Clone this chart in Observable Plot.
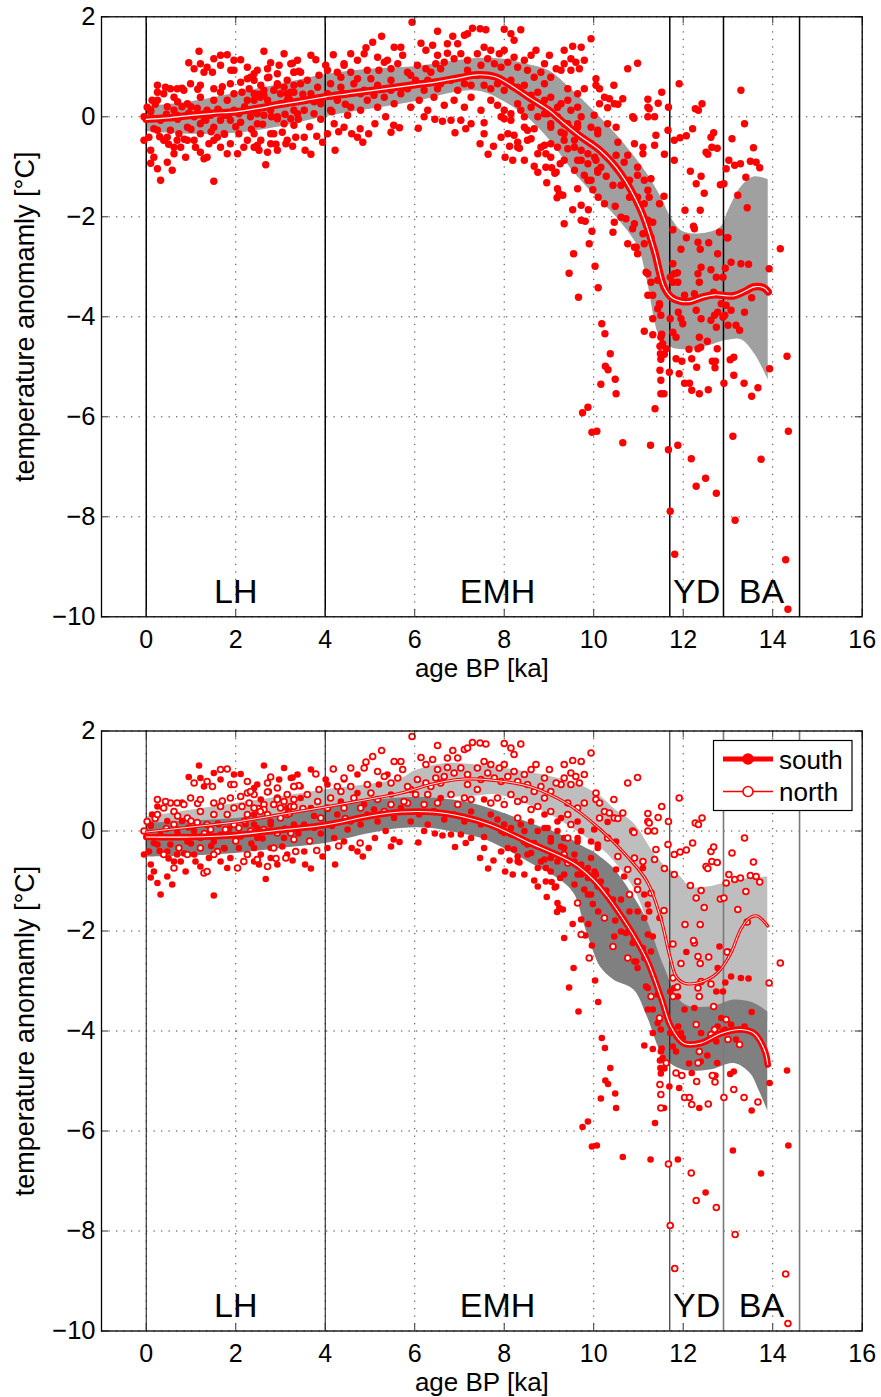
<!DOCTYPE html>
<html><head><meta charset="utf-8">
<script src="https://cdn.jsdelivr.net/npm/d3@7"></script>
<script src="https://cdn.jsdelivr.net/npm/@observablehq/plot@0.6"></script>
<style>
body{margin:0;background:#fff;}
#wrap{position:relative;width:881px;}
#wrap svg{display:block;}
</style></head><body><div id="wrap"></div>
<script>
// ---------- tick labels / periods ----------
const xTicks = [0, 2, 4, 6, 8, 10, 12, 14, 16];
const yTicks = [2, 0, -2, -4, -6, -8, -10];
const periodBounds = [0, 4, 11.7, 12.9, 14.6];
const periodLabels = ["LH", "EMH", "YD", "BA"];
const xLabel = "age BP [ka]";
const yLabel = "temperature anomamly [°C]";
const seriesNames = ["south", "north"];

// ---------- proxy records [age ka, anomaly °C] ----------
const southPoints = [
[1.18,1.31],[0.95,1.08],[1.51,1.16],[1.29,0.89],[1.66,1.03],[2.11,1.14],[2.63,1.31],[3.08,1.26],[2.48,0.93],[3.23,1.06],[2.56,0.63],[0.25,0.49],[0.8,0.57],[0.13,0.33],[-0.05,-0.47],[0.06,-0.41],[0.1,-0.93],[0.17,-0.81],[0.25,-1.04],[0.32,-1.27],[0.47,-0.91],[0.58,-1.07],[0.77,-0.61],[0.88,-0.81],[0.54,-0.27],[0.92,-0.21],[1.07,-0.47],[1.51,-1.29],[1.4,-0.54],[1.66,-0.61],[1.81,-0.74],[2.07,-0.34],[2.41,-0.61],[2.52,-0.67],[2.67,-0.96],[2.56,-0.47],[3.04,-0.31],[3.27,-0.59],[1.07,0.0],[1.66,-0.07],[2.41,0.13],[3.3,0.13],[0.32,-0.07],[0.17,-0.24],[1.21,-0.14],[1.51,-0.21],[2.11,-0.11],[3.15,0.46],[3.68,1.23],[4.72,1.13],[3.27,1.07],[4.01,1.03],[2.74,0.79],[3.45,0.89],[4.05,0.93],[4.42,1.03],[4.72,0.76],[3.45,0.66],[4.35,0.59],[2.41,0.33],[2.78,0.19],[3.53,0.13],[4.27,0.33],[4.57,0.19],[3.55,-0.67],[3.68,-0.75],[3.94,-0.51],[4.22,-0.67],[4.2,-0.14],[4.59,-0.34],[4.84,-0.51],[4.97,-0.34],
[0.1,0.1],[0.3,-0.4],[0.5,-0.55],[0.7,-0.05],[0.85,-0.45],[1.0,-0.25],[1.45,-0.3],[1.6,0.15],[1.75,-0.35],[1.85,0.05],[2.35,-0.25],[2.6,-0.15],[2.8,0.0],[3.1,0.05],[3.4,-0.05],[3.75,0.3],[3.9,-0.05],[4.15,0.1],
[0.1,0.13],[0.47,0.2],[0.69,0.03],[0.95,0.07],[1.33,-0.07],[1.62,0.13],[1.88,-0.07],[2.22,0.13],[2.48,-0.14],[2.78,0.13],[3.08,-0.14],[3.38,0.06],[0.25,-0.27],[0.47,-0.41],[0.69,-0.47],[1.1,-0.61],[1.21,-0.71],[1.74,-0.34],[1.88,-0.54],[2.41,-0.34],[2.78,-0.54],[2.93,-0.67],[0.1,-0.67],[0.62,-0.61],[1.21,1.06],[1.96,1.13],[2.41,0.86],[2.97,1.03],[3.38,1.13],[2.48,0.06],[2.93,0.0],[3.75,0.06],[4.12,0.13],[4.5,0.03],[4.79,0.13],[0.8,0.2],[3.68,0.46],
[5.39,1.13],[5.2,0.93],[4.87,0.53],[5.47,0.73],[6.58,0.66],[7.55,0.63],[9.27,0.26],[9.72,0.0],[9.94,-0.21],[4.94,0.33],[5.69,0.46],[6.1,0.33],[6.88,0.33],[7.26,0.39],[7.7,0.33],[8.0,0.13],[8.6,0.19],[8.9,0.06],[5.11,-0.14],[5.35,0.0],[5.53,-0.17],[5.66,-0.22],[6.08,-0.23],[6.45,-0.05],[6.62,-0.09],[6.9,-0.32],[7.03,-0.07],[7.14,-0.24],[7.46,-0.54],[7.55,-0.12],[7.64,-0.75],[7.76,-0.59],[8.02,-0.81],[8.12,-0.59],[8.0,-0.04],[8.22,-0.37],[8.19,-0.87],[8.3,-0.61],[8.45,-0.87],[8.67,-0.99],[8.75,-1.11],[8.93,-1.01],[8.95,-1.32],[9.13,-1.13],[9.25,-0.94],[9.19,-1.44],[9.31,-1.57],[9.57,-1.07],[9.79,-1.17],[8.82,-0.61],[9.04,-0.54],[9.34,-0.34],[9.57,-0.47],[9.87,-0.74],[8.67,-0.24],[8.34,-0.63],[9.06,-1.02],[9.16,-1.11],[9.23,-1.54],[9.18,-1.62],[9.53,-1.86],[9.72,-1.77],[9.88,-1.86],[9.34,-2.14],[9.81,-2.09],[9.96,-2.29],[9.55,-2.74],[9.45,-3.13],[10.03,-2.99],[10.1,-3.42],[9.66,-3.61],[10.18,-4.14],[10.25,-4.34],[10.37,-4.74],[10.26,-4.99],[10.32,-5.06],[10.48,-5.25],[10.16,-5.35],[10.5,-5.54],[9.87,-5.81],[9.75,-5.92],[9.96,-6.31],[10.07,-6.29],[10.65,-6.52],[11.27,-6.57],[11.88,-6.57],[11.37,-5.84],
[5.09,0.43],[5.17,0.19],[5.54,0.26],[5.91,0.19],[6.29,0.13],[6.66,0.23],[7.11,0.19],[7.48,0.13],[7.85,0.23],[8.15,0.06],[8.45,0.0],[8.75,0.0],[9.04,-0.14],[9.34,-0.14],[9.64,-0.21],[10.09,-0.34],[2.78,-0.34],[3.15,-0.47],[3.53,-0.41],[4.05,-0.34],[4.42,-0.21],[4.72,-0.41],[5.47,-0.31],[6.21,0.0],[6.81,-0.07],[7.26,-0.14],[7.55,-0.34],[7.93,-0.41],[8.52,-0.47],[8.75,-0.74],[9.04,-0.81],[9.34,-0.87],[9.72,-0.87],[10.02,-0.81],[10.09,-1.07],[9.94,-1.27],[8.9,0.33],[9.19,0.19],[9.64,0.19],
[10.98,-2.74],[11.13,-2.54],[10.95,-2.61],[11.28,-2.41],[11.1,-2.34],[10.87,-2.24],[10.61,-2.01],[10.72,-2.04],[10.91,-2.14],[10.46,-2.11],[11.21,-2.07],[11.32,-2.11],[11.47,-1.74],[11.24,-1.61],[11.13,-1.74],[10.98,-1.61],[10.8,-1.61],[10.48,-1.79],[10.1,-1.61],[9.98,-1.46],[10.28,-1.19],[10.43,-1.37],[10.61,-1.37],[11.13,-1.27],[11.21,-1.47],[10.68,-0.91],[10.5,-0.77],[11.1,-0.74],[10.5,-0.21],[10.09,-0.27],[9.94,-0.54],[9.72,-0.67],[9.64,-0.87],[10.05,-0.87],[9.87,-0.94],[10.16,-1.01],[9.87,-1.27],[10.09,-1.11],[9.57,-0.61],[9.27,-0.31],[9.04,-0.21],[9.64,-0.14],[9.19,0.0],[8.97,0.06],[8.37,0.13],[8.15,-0.07],[7.93,0.0],[8.08,-0.34],[8.52,-0.27],[8.3,-0.51],[8.6,-0.44],[8.9,-0.57],[9.19,-0.61],[8.93,-0.74],[10.31,0.18],[10.01,0.03],
[12.81,-2.31],[12.07,-2.42],[14.32,-4.79],[13.93,-5.04],[14.35,-6.29],[13.74,-6.85],[13.11,-6.39],[12.5,-7.23],[11.57,-5.54],[11.69,-5.11],[11.5,-4.85],[11.58,-4.75],[11.48,-4.59],[11.54,-4.54],[11.5,-4.41],[11.52,-4.35],[11.32,-4.36],[11.13,-4.29],[11.32,-4.04],[11.49,-4.74],[11.91,-5.14],[11.43,-3.84],[11.21,-3.57],[11.32,-3.57],[11.21,-3.14],[11.43,-3.27],[11.88,-3.31],[11.8,-3.14],[11.89,-3.91],[12.19,-4.84],[12.36,-5.54],[12.13,-4.65],[12.39,-4.61],[12.54,-4.49],[12.72,-4.89],[12.76,-4.64],[13.05,-4.86],[13.13,-4.81],[13.53,-5.59],[11.71,-3.21],[12.77,-2.74],[13.07,-2.91],[13.29,-2.94],[13.46,-2.95],[12.94,-3.03],[12.74,-3.21],[12.89,-3.21],[12.25,-3.54],[12.03,-3.57],[13.07,-3.87],[12.85,-3.74],[12.77,-3.91],[12.74,-4.21],[12.4,-4.04],[11.95,-4.04],[11.99,-4.14],[11.71,-4.04],[11.5,-3.97],[11.47,-3.77],[11.17,-3.11],[10.91,-2.61],[13.37,-3.91],[13.18,-4.17],[12.93,-3.97],[12.89,-4.01],[13.53,-3.62],[11.77,-4.31],[11.84,-4.41]
];
const northPoints = [
[1.07,0.96],[1.66,1.23],[1.81,1.24],[1.48,0.89],[1.89,0.93],[1.96,0.93],[2.78,1.08],[3.41,0.91],[2.93,0.86],[2.41,0.73],[2.26,0.76],[2.11,0.69],[2.3,0.56],[2.71,0.78],[3.15,0.73],[3.3,0.63],[0.39,0.46],[0.54,0.56],[0.84,0.53],[0.62,0.39],[0.02,0.19],[-0.05,0.0],[0.62,-0.74],[0.39,-0.47],[0.73,-0.34],[1.21,-0.34],[1.29,-0.84],[1.36,-0.81],[1.59,-0.41],[2.04,-0.74],[2.26,-0.47],[2.71,-0.71],[2.85,-0.34],[3.3,-0.17],[3.34,-0.41],[1.36,0.13],[1.96,0.13],[2.71,0.33],[3.0,0.26],[0.62,0.13],[2.26,0.33],[1.81,0.33],[1.51,0.33],[0.92,0.26],[1.21,0.39],[1.96,0.46],[2.85,0.53],[3.79,1.14],[4.18,1.24],[4.57,1.26],[4.87,1.26],[4.91,1.38],[4.42,1.06],[2.93,0.66],[3.3,0.89],[3.6,0.73],[3.86,0.83],[4.27,0.89],[4.57,0.89],[2.63,0.53],[3.08,0.59],[3.83,0.59],[4.12,0.66],[4.64,0.66],[3.15,0.33],[3.9,0.26],[2.48,-0.57],[3.81,-0.39],[4.78,-0.24],
[0.2,0.25],[0.45,0.05],[0.7,0.3],[1.0,0.2],[1.15,0.55],[1.3,-0.05],[1.7,0.6],[2.0,-0.2],[2.2,0.2],[2.5,0.45],[2.9,-0.55],[3.2,0.35],[3.5,0.45],[3.65,-0.2],[4.05,0.45],[4.3,-0.3],[4.45,0.25],
[0.25,0.33],[1.14,0.17],[1.44,0.03],[1.77,0.03],[2.07,0.06],[2.33,0.0],[2.63,0.03],[2.93,-0.04],[3.23,-0.04],[0.92,-0.47],[1.51,-0.47],[2.18,-0.61],[3.12,-0.54],[0.25,0.63],[0.43,0.59],[0.69,0.56],[0.99,0.66],[1.21,0.63],[1.51,0.56],[1.66,0.49],[1.88,0.66],[2.14,0.49],[2.41,0.46],[2.63,0.43],[2.93,0.63],[3.23,0.49],[1.36,0.99],[2.26,0.99],[2.71,0.96],[3.3,0.89],[2.33,0.79],[2.55,0.39],[3.0,0.46],[3.3,0.49],[4.05,0.46],[4.42,0.46],[4.79,0.46],
[4.35,0.79],[5.02,0.76],[5.47,0.96],[5.91,0.83],[6.36,0.89],[6.58,0.96],[7.18,0.93],[7.48,1.03],[7.93,0.99],[8.22,1.19],[8.6,1.23],[8.82,0.89],[9.27,0.93],[9.49,1.16],[9.79,1.13],[5.47,0.53],[5.84,0.56],[6.21,0.53],[6.51,0.56],[6.96,0.53],[7.26,0.63],[7.7,0.56],[8.0,0.53],[8.3,0.59],[8.6,0.43],[9.42,0.33],
[5.94,1.89],[5.26,1.61],[5.06,1.49],[6.51,1.71],[6.85,1.61],[7.11,1.63],[7.29,1.77],[7.46,1.76],[7.59,1.74],[8.0,1.75],[8.15,1.66],[8.37,1.74],[8.22,1.53],[7.18,1.66],[6.96,1.46],[6.73,1.46],[6.14,1.47],[6.4,1.43],[6.25,1.33],[5.54,1.39],[5.69,1.39],[5.73,1.23],[5.17,1.19],[6.51,1.23],[6.73,1.27],[7.55,1.39],[7.7,1.33],[7.89,1.26],[8.0,1.33],[8.71,1.33],[9.01,1.23],[9.34,1.33],[9.53,1.41],[9.72,1.39],[9.94,1.56],[9.34,1.06],[9.6,1.09],[8.9,1.06],[8.45,1.13],[9.16,0.96],[9.49,0.93],[9.68,0.96],[9.79,0.56],[10.05,0.76],[4.94,0.93],[5.32,1.09],[5.62,1.06],[5.84,0.89],[6.06,1.03],[6.25,0.96],[6.47,1.06],[6.66,1.09],[6.88,1.16],[7.03,1.26],[7.18,1.13],[7.4,1.26],[7.63,1.16],[7.78,1.06],[8.08,1.09],[8.3,0.99],[8.52,0.93],[8.67,0.79],[8.9,0.66],[9.04,0.79],[9.42,0.56],[9.64,0.46],[5.17,0.63],[5.76,0.59],[6.02,0.73],[6.29,0.73],[6.81,0.73],[7.11,0.66],[7.4,0.83],[7.85,0.66],[8.15,0.73],[8.45,0.63],[8.75,0.49],[9.04,0.39],[9.49,0.13],[5.32,0.39],[6.43,0.39],[8.3,0.26],[9.42,-0.64],[8.45,-0.21],
[9.64,-1.44],[9.72,-2.07],[9.9,-2.54],
[10.76,-2.54],[10.43,-2.31],[11.57,-1.59],[10.24,-1.74],[10.8,-1.27],[10.98,-1.17],[11.28,-1.24],[10.98,-1.01],[10.54,-0.51],[10.76,-0.77],[10.91,-0.54],[11.1,-0.61],[11.36,-0.57],[11.58,-0.75],[11.8,-0.87],[11.8,-0.47],[11.66,-0.27],[11.39,-0.37],[11.36,0.0],[11.21,0.0],[11.21,0.19],[10.87,0.0],[10.46,0.26],[10.31,-0.14],[9.34,-0.47],[9.42,-0.14],[11.67,0.19],[10.98,1.07],[10.76,0.96],[10.05,0.63],[10.13,0.56],[10.45,0.63],[10.24,0.39],[10.35,0.36],[10.65,0.36],[10.13,0.26],[10.54,0.25],[10.9,-0.03],[11.21,0.35],[11.24,0.16],[11.44,0.27],[11.52,0.49],
[11.91,0.66],[11.93,-0.42],[12.07,-0.38],[12.21,-0.24],[12.27,0.16],[12.34,0.13],[12.42,0.26],[12.16,-1.09],[12.29,-1.34],[12.4,-1.19],[12.47,-1.53],[12.38,-1.87],[12.62,-0.41],[12.68,-0.32],[12.51,-0.71],[12.55,-0.75],[12.64,-0.61],[12.76,-0.63],[12.83,-1.36],[12.91,-1.34],[12.04,-1.87],[12.25,-2.24],[12.23,-2.19],[13.0,-2.42],[11.77,-2.26],[13.29,0.53],[13.37,-0.14],[13.09,-0.44],[13.57,-0.62],[13.02,-0.87],[13.15,-0.97],[13.28,-0.94],[13.5,-0.89],[13.63,-0.91],[13.71,-1.02],[12.96,-1.04],[13.4,-1.21],[13.22,-1.57],[13.43,-1.82],[14.17,-2.64],[13.92,-3.04],[13.16,-8.07],[14.29,-8.86],[14.34,-9.85],[11.71,-7.89],[11.81,-8.75],[11.67,-6.66],[12.18,-6.84],[12.29,-7.39],[12.74,-7.53],[11.5,-5.54],[11.5,-5.27],[11.48,-5.07],[11.62,-4.64],[11.84,-4.84],[11.47,-3.74],[11.28,-3.31],[11.77,-3.31],[11.77,-2.94],[11.97,-4.89],[12.03,-5.33],[12.14,-5.33],[12.3,-5.01],[12.19,-5.47],[12.56,-5.46],[12.33,-4.64],[12.65,-4.89],[12.71,-5.02],[12.91,-5.33],[13.13,-5.17],[13.36,-5.33],[13.67,-5.42],[11.87,-3.12],[11.95,-2.65],[12.33,-2.51],[12.38,-2.65],[12.57,-2.52],[12.98,-2.42],[12.4,-3.01],[12.33,-3.14],[12.36,-3.31],[12.62,-3.06],[12.68,-3.51],[12.96,-3.77],[12.7,-3.97],[12.62,-4.07],[12.29,-3.87],[13.26,-4.27],[13.0,-4.17],[12.36,-4.41]
];

// ---------- stacked (global) mean and uncertainty band ----------
const globalMean = [[0,-0.05],[0.5,-0.02],[1,0.03],[1.5,0.07],[2,0.1],[2.5,0.17],[3,0.25],[3.5,0.32],[4,0.4],[4.5,0.46],[5,0.52],[5.5,0.58],[6,0.64],[6.5,0.7],[7,0.78],[7.4,0.84],[7.8,0.8],[8.2,0.6],[8.6,0.36],[9.0,0.13],[9.3,-0.1],[9.7,-0.39],[10.15,-0.68],[10.6,-1.13],[11.05,-1.86],[11.35,-2.66],[11.57,-3.4],[11.75,-3.62],[11.95,-3.69],[12.17,-3.69],[12.45,-3.6],[12.7,-3.56],[13.13,-3.58],[13.4,-3.48],[13.58,-3.4],[13.8,-3.42],[13.9,-3.5]];
const globalBand = [[0,-0.3,0.2],[1,-0.35,0.3],[2,-0.33,0.47],[3,-0.2,0.65],[4,0.0,0.84],[5,0.15,0.95],[6,0.3,1.0],[7,0.5,1.13],[7.5,0.5,1.17],[8,0.3,1.15],[8.5,0.0,1.05],[9.0,-0.45,0.92],[9.5,-1.05,0.55],[10.0,-1.55,0.12],[10.5,-2.0,-0.35],[11.0,-2.62,-0.9],[11.2,-3.3,-1.15],[11.5,-4.45,-1.6],[11.75,-4.62,-2.05],[12.0,-4.66,-2.3],[12.5,-4.6,-2.33],[12.85,-4.5,-2.2],[13.0,-4.47,-1.9],[13.3,-4.46,-1.4],[13.6,-4.75,-1.2],[13.9,-5.26,-1.26]];

// ---------- hemispheric means and bands ----------
const southMean = [[0,-0.12],[1,-0.12],[2,-0.08],[3,0.02],[4,0.12],[5,0.3],[5.7,0.38],[6.4,0.38],[7.1,0.28],[7.7,0.12],[8.6,-0.25],[9.56,-0.65],[10.0,-0.98],[10.3,-1.3],[10.6,-1.68],[10.9,-2.1],[11.2,-2.6],[11.5,-3.32],[11.73,-3.92],[12.02,-4.25],[12.4,-4.24],[12.84,-4.05],[13.29,-3.97],[13.59,-4.05],[13.82,-4.39],[13.89,-4.67]];
const southBand = [[0,-0.52,0.15],[1,-0.5,0.2],[2,-0.45,0.25],[3,-0.35,0.35],[4,-0.25,0.45],[5,-0.05,0.6],[5.7,0.05,0.66],[6.4,0.05,0.66],[7.0,-0.05,0.6],[7.5,-0.15,0.5],[8.0,-0.35,0.35],[8.6,-0.65,0.15],[9.2,-0.95,-0.05],[9.56,-1.25,-0.2],[9.8,-1.9,-0.33],[10.0,-2.42,-0.42],[10.15,-2.72,-0.52],[10.45,-2.98,-0.75],[10.9,-3.18,-1.32],[11.2,-3.72,-1.8],[11.57,-4.52,-2.7],[12.0,-4.78,-3.45],[12.6,-4.78,-3.52],[13.14,-4.65,-3.38],[13.5,-4.85,-3.42],[13.7,-5.2,-3.5],[13.89,-5.6,-3.62]];
const northMean = [[0,-0.02],[1,0.08],[2,0.18],[3,0.33],[4,0.48],[5,0.64],[5.7,0.76],[6.4,0.94],[7.1,1.04],[7.9,1.0],[8.6,0.88],[9.4,0.55],[10.15,0.03],[10.76,-0.52],[11.2,-1.02],[11.5,-1.75],[11.7,-2.5],[11.85,-2.92],[12.05,-3.05],[12.4,-3.02],[12.75,-2.85],[13.05,-2.47],[13.29,-1.96],[13.48,-1.74],[13.65,-1.7],[13.89,-1.9]];
const northBand = [[0,-0.3,0.28],[2,-0.15,0.55],[4,0.15,0.82],[5.7,0.45,1.05],[6.0,0.5,1.2],[6.7,0.65,1.35],[7.4,0.7,1.32],[7.87,0.72,1.27],[8.97,0.35,1.1],[9.7,-0.05,0.92],[10.17,-0.35,0.68],[10.45,-0.6,0.45],[10.9,-1.15,0.15],[11.35,-2.2,-0.45],[11.65,-3.0,-0.75],[11.9,-3.7,-0.88],[12.17,-3.7,-1.12],[12.55,-3.7,-1.12],[12.9,-3.7,-1.05],[13.44,-3.7,-0.95],[13.89,-3.8,-0.92]];

// ---------- shared helpers ----------
const FONT = "'Liberation Sans', Arial, Helvetica, sans-serif";
const W = 881, ML = 101, MR = 19.3;
const fmt = d => d < 0 ? "\u2212" + Math.abs(d) : String(d);
const gx = d => d[0], gy = d => d[1];

function gridMarks() {
  return [
    Plot.ruleX(xTicks, {x: d => d, stroke: "#111", strokeOpacity: 0.8, strokeDasharray: "1.3,6.2"}),
    Plot.ruleY(yTicks, {y: d => d, stroke: "#111", strokeOpacity: 0.8, strokeDasharray: "1.3,6.2"})
  ];
}
function axisMarks(plotH) {
  const plotW = W - ML - MR;
  const tl = 7;
  const periods = periodLabels.map((label, i) => ({label, x: (periodBounds[i] + periodBounds[i + 1]) / 2}));
  return [
    Plot.tickX(xTicks, {x: d => d, insetTop: plotH - tl, stroke: "#333"}),
    Plot.tickX(xTicks, {x: d => d, insetBottom: plotH - tl, stroke: "#333"}),
    Plot.tickY(yTicks, {y: d => d, insetRight: plotW - tl, stroke: "#333"}),
    Plot.tickY(yTicks, {y: d => d, insetLeft: plotW - tl, stroke: "#333"}),
    Plot.frame({stroke: "#000", strokeWidth: 1.3}),
    Plot.axisX(xTicks, {tickSize: 0, tickPadding: 13, tickFormat: fmt, label: null, fontSize: 25, fill: "#000"}),
    Plot.axisY(yTicks, {tickSize: 0, tickPadding: 6, tickFormat: fmt, label: null, fontSize: 25.5, fill: "#000"}),
    Plot.text([xLabel], {frameAnchor: "bottom", lineAnchor: "top", textAnchor: "middle", dy: 42, text: d => d, fontSize: 26, fill: "#000"}),
    Plot.text([yLabel], {frameAnchor: "left", rotate: -90, textAnchor: "middle", lineAnchor: "middle", dx: -76, text: d => d, fontSize: 27, fill: "#000"}),
    Plot.text(periods, {x: "x", frameAnchor: "bottom", lineAnchor: "middle", textAnchor: "middle", dy: -24.5, text: "label", fontSize: 34, fill: "#000"})
  ];
}

function panel(height, marginTop, marginBottom, dataMarks) {
  const plotH = height - marginTop - marginBottom;
  return Plot.plot({
    width: W, height, marginLeft: ML, marginRight: MR, marginTop, marginBottom,
    x: {domain: [-1, 16]},
    y: {domain: [-10, 2]},
    style: {fontFamily: FONT, fontSize: "25px", background: "white", color: "#000", overflow: "visible"},
    marks: [...gridMarks(), ...dataMarks, ...axisMarks(plotH)]
  });
}

const allPoints = southPoints.concat(northPoints);

// ---------- top panel ----------
const topPlot = panel(700, 16.3, 83.7, [
  Plot.areaY(globalBand, {x: gx, y1: d => d[1], y2: d => d[2], fill: "#a0a0a0", curve: "catmull-rom"}),
  Plot.ruleX(periodBounds, {x: d => d, stroke: "#000", strokeWidth: 1.5}),
  Plot.dot(allPoints, {x: gx, y: gy, r: 3.7, fill: "#ff0000", stroke: "none"}),
  Plot.line(globalMean, {x: gx, y: gy, stroke: "#ff0000", strokeWidth: 7.5, curve: "catmull-rom"}),
  Plot.line(globalMean, {x: gx, y: gy, stroke: "#ffffff", strokeWidth: 1.2, curve: "catmull-rom"})
]);

// ---------- bottom panel ----------
const bottomPlot = panel(697, 30.5, 66.5, [
  Plot.areaY(northBand, {x: gx, y1: d => d[1], y2: d => d[2], fill: "#bebebe", curve: "catmull-rom"}),
  Plot.areaY(southBand, {x: gx, y1: d => d[1], y2: d => d[2], fill: "#808080", curve: "catmull-rom"}),
  Plot.ruleX(periodBounds.slice(0, 3), {x: d => d, stroke: "#111", strokeWidth: 1}),
  Plot.ruleX(periodBounds.slice(3), {x: d => d, stroke: "#7a7a7a", strokeWidth: 1.6}),
  Plot.dot(southPoints, {x: gx, y: gy, r: 3.3, fill: "#ff0000", stroke: "none"}),
  Plot.dot(northPoints, {x: gx, y: gy, r: 2.9, fill: "#ffffff", stroke: "#ff0000", strokeWidth: 1.8}),
  Plot.line(southMean, {x: gx, y: gy, stroke: "#ff0000", strokeWidth: 6.5, curve: "catmull-rom"}),
  Plot.line(southMean, {x: gx, y: gy, stroke: "#ffffff", strokeWidth: 1.1, curve: "catmull-rom"}),
  Plot.line(northMean, {x: gx, y: gy, stroke: "#ff0000", strokeWidth: 3.2, curve: "catmull-rom"}),
  Plot.line(northMean, {x: gx, y: gy, stroke: "#ffffff", strokeWidth: 0.9, curve: "catmull-rom"})
]);

const wrap = document.getElementById("wrap");
wrap.appendChild(topPlot);
wrap.appendChild(bottomPlot);

// ---------- legend ----------
const ns = "http://www.w3.org/2000/svg";
const leg = document.createElementNS(ns, "svg");
leg.setAttribute("width", 140); leg.setAttribute("height", 71);
leg.style.cssText = "position:absolute;left:713px;top:740px;overflow:visible";
const legFont = FONT.replace(/'/g, "");
leg.innerHTML = `
<rect x="0.5" y="0.5" width="138.5" height="70" fill="#fff" stroke="#000" stroke-width="1.2"/>
<line x1="10" x2="60" y1="19" y2="19" stroke="#f00" stroke-width="5"/>
<circle cx="35" cy="19" r="5.8" fill="#f00"/>
<text x="66" y="28.5" font-size="26" font-family="${legFont}">${seriesNames[0]}</text>
<line x1="10" x2="60" y1="51.5" y2="51.5" stroke="#f00" stroke-width="1.6"/>
<circle cx="35" cy="51.5" r="5" fill="#fff" stroke="#f00" stroke-width="1.6"/>
<text x="66" y="60.5" font-size="26" font-family="${legFont}">${seriesNames[1]}</text>`;
wrap.appendChild(leg);
</script></body></html>
